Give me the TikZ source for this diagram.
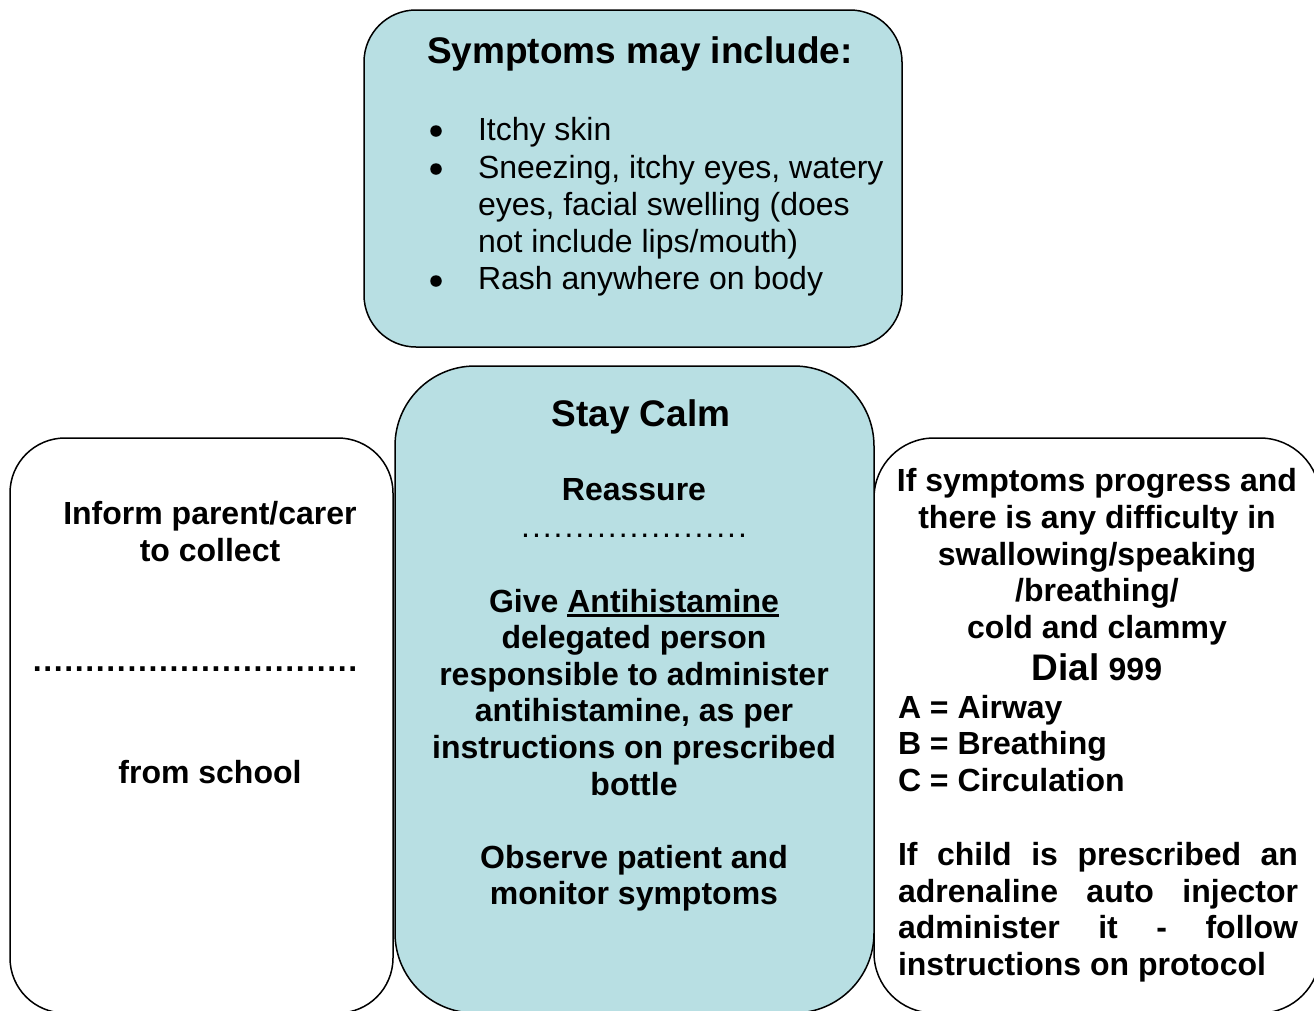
\documentclass[tikz,border=0pt]{standalone}
\usepackage{fontspec}
\setmainfont{Liberation Sans}
\definecolor{boxblue}{RGB}{184,223,227}
\newcommand\fsbody{\fontsize{32pt}{36.6pt}\selectfont}
\newcommand\fstitle{\fontsize{37pt}{42pt}\selectfont}
\newcommand\dotrow[2]{\hbox to #1{\xleaders\hbox to #2{\hss.\hss}\hfill}}
\newcommand\myul[1]{\setbox0\hbox{#1}\rlap{\rule[-4.5pt]{\wd0}{2.4pt}}\box0}
\tikzset{
  panel/.style={draw=black, line width=1.5pt, inner sep=0pt, outer sep=0pt},
  bluepanel/.style={panel, fill=boxblue},
  whitepanel/.style={panel, fill=white},
  txt/.style={anchor=base, inner sep=0pt, outer sep=0pt, font=\fsbody\bfseries},
  txtl/.style={txt, anchor=base west},
  plain/.style={anchor=base, inner sep=0pt, outer sep=0pt, font=\fsbody},
  plainl/.style={plain, anchor=base west},
  bulletmark/.style={circle, fill=black, inner sep=0pt, outer sep=0pt, minimum size=11.5pt},
  ttl/.style={anchor=base, inner sep=0pt, outer sep=0pt, font=\fstitle\bfseries}
}
\begin{document}
\begin{tikzpicture}[x=1pt,y=-1pt]
\useasboundingbox (0,0) rectangle (1314,1010);
\fill[white] (0,0) rectangle (1314,1010);
\begin{scope}
\clip (0,0) rectangle (1314,1010);
% panels
\node[whitepanel, rounded corners=55pt, minimum width=383pt, minimum height=575pt] (left) at (201.5,725.5) {};
\node[whitepanel, rounded corners=60pt, minimum width=446pt, minimum height=575pt] (right) at (1097,725.5) {};
\node[bluepanel, rounded corners=80pt, minimum width=479pt, minimum height=647pt] (center) at (634.5,689.5) {};
\node[bluepanel, rounded corners=52pt, minimum width=538pt, minimum height=337pt] (top) at (633,178.5) {};
\end{scope}

% top panel text
\node[ttl] (symtitle) at (640,63.5) {Symptoms may include:};
\node[bulletmark] (b1) at (436,131) {};
\node[bulletmark] (b2) at (436,169) {};
\node[bulletmark] (b3) at (436,281) {};
\node[plainl] (s1) at (478,140.5) {Itchy skin};
\node[plainl] (s2) at (478,178) {Sneezing, itchy eyes, watery};
\node[plainl] (s3) at (478,215) {eyes, facial swelling (does};
\node[plainl] (s4) at (478,252) {not include lips/mouth)};
\node[plainl] (s5) at (478,289.5) {Rash anywhere on body};

% centre panel text
\node[ttl] (calm) at (641,426) {Stay Calm};
\node[txt] (reassure) at (634,500.5) {Reassure};
\node[plain] (cdots) at (634,537) {\dotrow{228pt}{10.4pt}};
\node[txt] (c1) at (634,612) {Give \myul{Antihistamine}};
\node[txt] (c2) at (634,648) {delegated person};
\node[txt] (c3) at (634,685) {responsible to administer};
\node[txt] (c4) at (634,721.5) {antihistamine, as per};
\node[txt] (c5) at (634,758) {instructions on prescribed};
\node[txt] (c6) at (634,795) {bottle};
\node[txt] (c7) at (634,868) {Observe patient and};
\node[txt] (c8) at (634,904.5) {monitor symptoms};

% left panel text
\node[txt] (l1) at (210,524) {Inform parent/carer};
\node[txt] (l2) at (210,561) {to collect};
\node[txt] (ldots) at (195,671) {\dotrow{326pt}{10.5pt}};
\node[txt] (l3) at (210,783) {from school};

% right panel text
\node[txt] (r1) at (1097,491.5) {If symptoms progress and};
\node[txt] (r2) at (1097,528) {there is any difficulty in};
\node[txt] (r3) at (1097,565) {swallowing/speaking};
\node[txt] (r4) at (1097,601.5) {/breathing/};
\node[txt] (r5) at (1097,638) {cold and clammy};
\node[txt] (r6) at (1097,680.5) {{\fstitle Dial} 999};
\node[txtl] (r7) at (898,718) {A = Airway};
\node[txtl] (r8) at (898,754.5) {B = Breathing};
\node[txtl] (r9) at (898,791) {C = Circulation};
\node[txtl] (r10) at (898,865) {\makebox[400pt][s]{If child is prescribed an}};
\node[txtl] (r11) at (898,902) {\makebox[400pt][s]{adrenaline auto injector}};
\node[txtl] (r12) at (898,938.5) {\makebox[400pt][s]{administer it - follow}};
\node[txtl] (r13) at (898,975) {instructions on protocol};
\end{tikzpicture}
\end{document}
